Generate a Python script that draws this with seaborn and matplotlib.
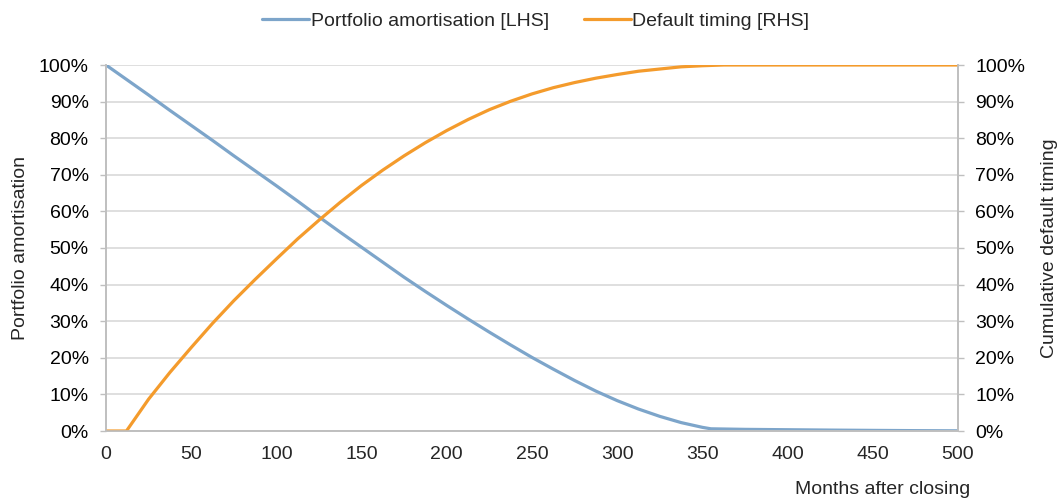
import matplotlib
matplotlib.use("Agg")
import matplotlib.pyplot as plt
import seaborn as sns
import pandas as pd
from matplotlib.ticker import PercentFormatter

# ==========================================
# DATA
# ==========================================

amort_months = [0, 12.5, 25, 37.5, 50, 62.5, 75, 87.5, 100, 112.5, 125, 137.5, 150, 162.5,
                175, 187.5, 200, 212.5, 225, 237.5, 250, 262.5, 275, 287.5, 300, 312.5,
                325, 337.5, 350, 355, 375, 400, 425, 450, 475, 500]
amort_values = [100, 95.9, 91.8, 87.6, 83.5, 79.4, 75.2, 71.1, 67.0, 62.8, 58.5, 54.3, 50.2, 46.1,
                42.0, 38.1, 34.3, 30.6, 27.0, 23.5, 20.1, 16.9, 13.8, 10.9, 8.3, 6.0,
                4.0, 2.3, 1.0, 0.6, 0.45, 0.35, 0.25, 0.17, 0.1, 0.05]

default_months = [0, 12, 25, 37.5, 50, 62.5, 75, 87.5, 100, 112.5, 125, 137.5, 150, 162.5,
                  175, 187.5, 200, 212.5, 225, 237.5, 250, 262.5, 275, 287.5, 300, 312.5,
                  325, 337.5, 350, 362.5, 375, 500]
default_values = [0, 0, 8.7, 16.0, 22.8, 29.4, 35.6, 41.4, 47.0, 52.5, 57.6, 62.5, 67.1, 71.3,
                  75.2, 78.8, 82.1, 85.1, 87.8, 90.1, 92.1, 93.8, 95.2, 96.4, 97.4, 98.3,
                  98.9, 99.5, 99.8, 100, 100, 100]

BLUE = "#7DA5CA"
ORANGE = "#F49B2C"
GRID = "#D9D9D9"
SPINE = "#BFBFBF"
FS = 14

amort = pd.DataFrame({"month": amort_months, "value": amort_values})
default = pd.DataFrame({"month": default_months, "value": default_values})

# ==========================================
# PLOT
# ==========================================

sns.set_theme(style="white")
plt.rcParams["font.family"] = ["Liberation Sans", "DejaVu Sans"]
plt.rcParams["font.size"] = FS

fig = plt.figure(figsize=(10.61, 5.0), dpi=100)
ax = fig.add_axes([0.0999, 0.138, 0.803, 0.732])
ax2 = ax.twinx()

sns.lineplot(data=amort, x="month", y="value", ax=ax, color=BLUE, linewidth=2.3,
             label="Portfolio amortisation [LHS]", legend=False)
sns.lineplot(data=default, x="month", y="value", ax=ax2, color=ORANGE, linewidth=2.3,
             label="Default timing [RHS]", legend=False)

for a in (ax, ax2):
    a.set_ylim(0, 100)
    a.set_yticks(range(0, 101, 10))
    a.yaxis.set_major_formatter(PercentFormatter(decimals=0))
    a.tick_params(axis="y", labelsize=FS, colors="black", length=4.5, color=SPINE,
                  width=1, pad=8)
    for s in a.spines.values():
        s.set_color(SPINE)
        s.set_linewidth(1.2)
    a.spines["top"].set_visible(False)

ax.set_xlim(0, 500)
ax.set_xticks(range(0, 501, 50))
ax.tick_params(axis="x", labelsize=FS, length=0, pad=11)
ax.tick_params(axis="y", left=True, direction="out")
ax2.tick_params(axis="y", right=True, direction="out")
ax.grid(axis="y", color=GRID, linewidth=1.2)
ax.set_axisbelow(True)

ax.set_xlabel("")
ax.set_ylabel("Portfolio amortisation", fontsize=FS, labelpad=7)
ax2.set_ylabel("Cumulative default timing", fontsize=FS, labelpad=11)
fig.text(0.914, 0.005, "Months after closing", ha="right", va="bottom", fontsize=FS)

h1, l1 = ax.get_legend_handles_labels()
h2, l2 = ax2.get_legend_handles_labels()
fig.legend(h1 + h2, l1 + l2, loc="upper center", bbox_to_anchor=(0.505, 1.01), ncol=2,
           frameon=False, fontsize=FS, handlelength=2.4, handletextpad=0.1, columnspacing=1.8)

fig.savefig("out.png", dpi=100)
